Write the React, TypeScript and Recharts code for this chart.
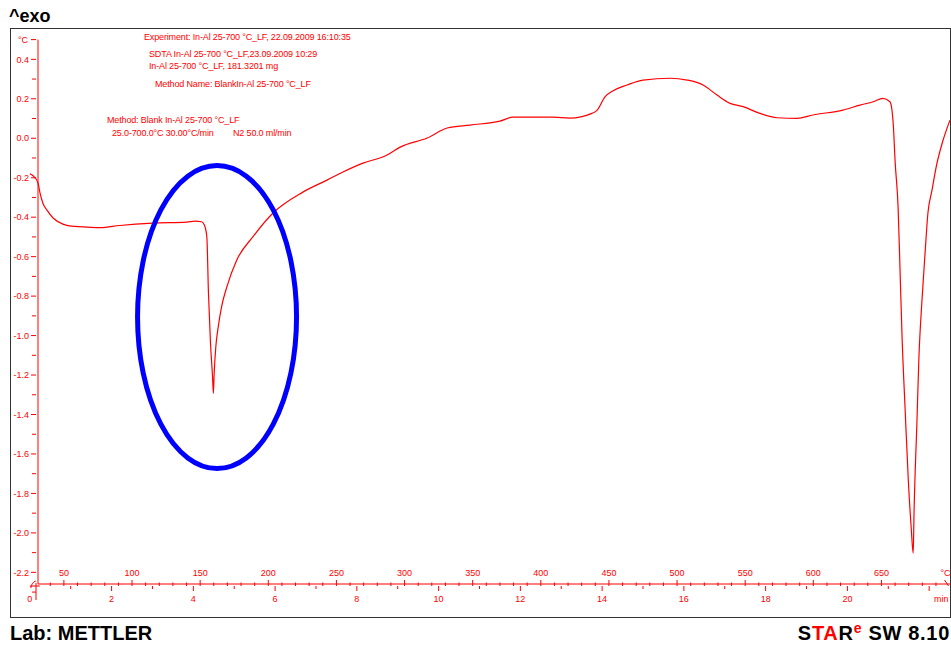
import React from "react";
import { LineChart, Line, XAxis, YAxis, ReferenceDot } from "recharts";

// DSC curve: time in minutes, signal in °C
const TIME_MIN = [
  0, 0.08, 0.2, 0.25, 0.32, 0.42, 0.57, 0.81, 1.1, 1.4, 1.72, 2.2, 3.01, 3.84,
  4.04, 4.2, 4.27, 4.33, 4.37, 4.42, 4.47, 4.49, 4.51, 4.55, 4.61, 4.69, 4.82,
  5.06, 5.46, 5.95, 6.68, 7.27, 7.66, 8.15, 8.74, 9.06, 9.72, 10.21, 10.77,
  11.5, 11.82, 12.8, 13.21, 13.75, 13.88, 14.07, 14.27, 14.61, 15.0, 15.66,
  16.08, 16.47, 16.81, 17.13, 17.45, 17.86, 18.28, 18.77, 19.16, 19.89, 20.31,
  20.63, 20.87, 21.04, 21.09, 21.12, 21.17, 21.24, 21.29, 21.34, 21.41, 21.49,
  21.56, 21.61, 21.63, 21.7, 21.75, 21.82, 21.9, 21.97, 22.07, 22.17, 22.32,
  22.51,
];
const DSC_SIGNAL = [
  -0.18, -0.19, -0.227, -0.278, -0.329, -0.364, -0.404, -0.435, -0.447, -0.45,
  -0.453, -0.442, -0.43, -0.425, -0.42, -0.423, -0.44, -0.499, -0.786, -1.04,
  -1.209, -1.293, -1.19, -1.057, -0.955, -0.854, -0.753, -0.618, -0.499, -0.379,
  -0.273, -0.212, -0.171, -0.126, -0.085, -0.045, 0.001, 0.052, 0.067, 0.087,
  0.107, 0.107, 0.102, 0.126, 0.143, 0.21, 0.241, 0.27, 0.295, 0.304, 0.295,
  0.27, 0.219, 0.177, 0.16, 0.126, 0.104, 0.101, 0.118, 0.143, 0.168, 0.185,
  0.202, 0.185, 0.143, 0.077, -0.126, -0.349, -0.683, -1.023, -1.363, -1.733,
  -1.971, -2.103, -1.9, -1.444, -1.109, -0.835, -0.582, -0.379, -0.263, -0.147,
  -0.024, 0.092,
];

const MIN_TICKS = [0, 1, 2, 3, 4, 5, 6, 7, 8, 9, 10, 11, 12, 13, 14, 15, 16, 17, 18, 19, 20, 21, 22];
const MIN_LABELS = [0, 2, 4, 6, 8, 10, 12, 14, 16, 18, 20];
const TEMP_LABELS = [50, 100, 150, 200, 250, 300, 350, 400, 450, 500, 550, 600, 650];
const Y_LABELS = [0.4, 0.2, 0.0, -0.2, -0.4, -0.6, -0.8, -1.0, -1.2, -1.4, -1.6, -1.8, -2.0, -2.2];

const T_START = 25; // °C
const RATE = 30; // °C/min
const T_END = 700;

const RED = "#ff0000";
const FONT = "'Liberation Sans', Arial, sans-serif";

const data = TIME_MIN.map((t, i) => ({ t, v: DSC_SIGNAL[i] }));

const tempToMin = (T: number) => (T - T_START) / RATE;
const key = (v: number) => v.toFixed(5);

// minor temperature ticks every 10 °C
const TEMP_TICKS: number[] = [];
for (let T = 40; T < T_END; T += 10) TEMP_TICKS.push(T);

const xInfo = new Map<string, { kind: string; label: string }>();
MIN_TICKS.forEach((m) =>
  xInfo.set(key(m), { kind: "min", label: MIN_LABELS.includes(m) ? String(m) : "" })
);
TEMP_TICKS.forEach((T) =>
  xInfo.set(key(tempToMin(T)), { kind: "temp", label: TEMP_LABELS.includes(T) ? String(T) : "" })
);
xInfo.set(key(tempToMin(T_END)), { kind: "end", label: "" });
const X_TICKS = [...MIN_TICKS, ...TEMP_TICKS.map(tempToMin), tempToMin(T_END)].sort((a, b) => a - b);

const Y_MINOR = [0.3, 0.1, -0.1, -0.3, -0.5, -0.7, -0.9, -1.1, -1.3, -1.5, -1.7, -1.9, -2.1, -2.3];
const Y_TICKS = [0.5, ...Y_LABELS, ...Y_MINOR].sort((a, b) => b - a);

function XTick(props: any) {
  const { x, y, payload } = props;
  const info = xInfo.get(key(payload.value));
  if (!info) return null;
  const ts = { fontSize: 9, fontFamily: FONT, fill: RED };
  if (info.kind === "min") {
    const m = payload.value;
    if (m === 0) {
      return (
        <g>
          <line x1={x} y1={y} x2={x + 10} y2={y} stroke={RED} />
          <path d={`M${x + 1},${y + 2} Q${x + 2},${y - 4} ${x + 6},${y - 5}`} stroke={RED} fill="none" />
          <text x={x} y={y + 16} textAnchor="middle" {...ts}>0</text>
        </g>
      );
    }
    const even = m % 2 === 0;
    return (
      <g>
        <line x1={x} y1={y} x2={x} y2={y + (even ? 5 : 3)} stroke={RED} />
        {info.label && (
          <text x={x} y={y + 16} textAnchor="middle" {...ts}>{info.label}</text>
        )}
      </g>
    );
  }
  if (info.kind === "temp") {
    const major = info.label !== "";
    return (
      <g>
        <line x1={x} y1={y} x2={x} y2={y - (major ? 6 : 3.5)} stroke={RED} />
        {major && (
          <text x={x} y={y - 10} textAnchor="middle" {...ts}>{info.label}</text>
        )}
      </g>
    );
  }
  return (
    <g>
      <line x1={x - 5} y1={y - 6} x2={x - 1} y2={y} stroke={RED} />
      <text x={x + 1} y={y - 10} textAnchor="end" {...ts}>°C</text>
      <text x={x - 1} y={y + 16} textAnchor="end" {...ts}>min</text>
    </g>
  );
}

function YTick(props: any) {
  const { x, y, payload } = props;
  const v = payload.value;
  const ts = { fontSize: 9, fontFamily: FONT, fill: RED };
  if (v === 0.5) {
    return (
      <g>
        <line x1={x - 5} y1={y} x2={x} y2={y} stroke={RED} />
        <text x={x - 8} y={y + 3} textAnchor="end" {...ts}>°C</text>
      </g>
    );
  }
  const major = Y_LABELS.some((l) => Math.abs(l - v) < 1e-6);
  if (major) {
    return (
      <g>
        <line x1={x - 5} y1={y} x2={x} y2={y} stroke={RED} />
        <text x={x - 7} y={y + 3.2} textAnchor="end" {...ts}>
          {v.toFixed(1)}
        </text>
      </g>
    );
  }
  return (
    <g>
      <line x1={x - 4} y1={y} x2={x} y2={y} stroke={RED} />
      {v < -2.25 && <line x1={x} y1={y - 9} x2={x} y2={y + 8} stroke={RED} />}
    </g>
  );
}

const Ellipse = (props: any) => (
  <ellipse cx={props.cx} cy={props.cy} rx={79.5} ry={151.5} fill="none" stroke="#0000ff" strokeWidth={5} />
);

export default function App() {
  const note = { fontSize: 9, fontFamily: FONT, fill: RED, letterSpacing: -0.15 };
  return (
    <div
      className="dsc-chart"
      style={{ position: "absolute", left: 0, top: 0, width: 951, height: 645, background: "#fff", overflow: "hidden" }}
    >
      <style>{`.dsc-chart [clip-path] { clip-path: none !important; }`}</style>
      <div
        style={{
          position: "absolute",
          left: 10,
          top: 28,
          width: 941,
          height: 590,
          border: "1.5px solid #333",
          boxSizing: "border-box",
        }}
      />
      <div style={{ position: "absolute", left: 0, top: 0 }}>
        <LineChart width={951} height={645} data={data} margin={{ top: 39.6, right: 1, bottom: 31, left: 8 }}>
          <XAxis
            type="number"
            dataKey="t"
            domain={[0.2, 22.51]}
            allowDataOverflow
            ticks={X_TICKS}
            interval={0}
            height={30}
            tickSize={0}
            tickLine={false}
            axisLine={{ stroke: RED }}
            tick={<XTick />}
          />
          <YAxis
            type="number"
            domain={[-2.259, 0.5]}
            allowDataOverflow
            ticks={Y_TICKS}
            interval={0}
            width={30}
            tickSize={0}
            tickLine={false}
            axisLine={{ stroke: RED }}
            tick={<YTick />}
          />
          <Line
            type="monotone"
            dataKey="v"
            stroke={RED}
            strokeWidth={1.2}
            dot={false}
            isAnimationActive={false}
          />
          <ReferenceDot x={4.58} y={-0.906} r={1} shape={Ellipse} />
        </LineChart>
      </div>
      <svg
        width={951}
        height={645}
        style={{ position: "absolute", left: 0, top: 0, pointerEvents: "none" }}
      >
        <text x={9} y={22} fontSize={18} fontWeight="bold" fontFamily={FONT} fill="#000">
          ^exo
        </text>
        <text x={144} y={40} {...note}>Experiment: In-Al 25-700 °C_LF, 22.09.2009 16:10:35</text>
        <text x={149} y={56.7} {...note}>SDTA In-Al 25-700 °C_LF,23.09.2009 10:29</text>
        <text x={149} y={69} {...note}>In-Al 25-700 °C_LF, 181.3201 mg</text>
        <text x={155} y={86.7} {...note}>Method Name: BlankIn-Al 25-700 °C_LF</text>
        <text x={107} y={123.3} {...note}>Method: Blank In-Al 25-700 °C_LF</text>
        <text x={112} y={136} {...note}>25.0-700.0°C 30.00°C/min</text>
        <text x={233} y={136} {...note}>N2 50.0 ml/min</text>
        <text x={10} y={639.5} fontSize={20} fontWeight="bold" fontFamily={FONT} fill="#000">
          Lab: METTLER
        </text>
        <text
          x={950}
          y={639.5}
          textAnchor="end"
          fontSize={20}
          fontWeight="bold"
          fontFamily={FONT}
          fill="#000"
          letterSpacing={0.7}
        >
          S<tspan fill={RED}>TA</tspan>R
          <tspan fill={RED} fontSize={14} dy={-7}>e</tspan>
          <tspan dy={7}> SW 8.10</tspan>
        </text>
      </svg>
    </div>
  );
}
